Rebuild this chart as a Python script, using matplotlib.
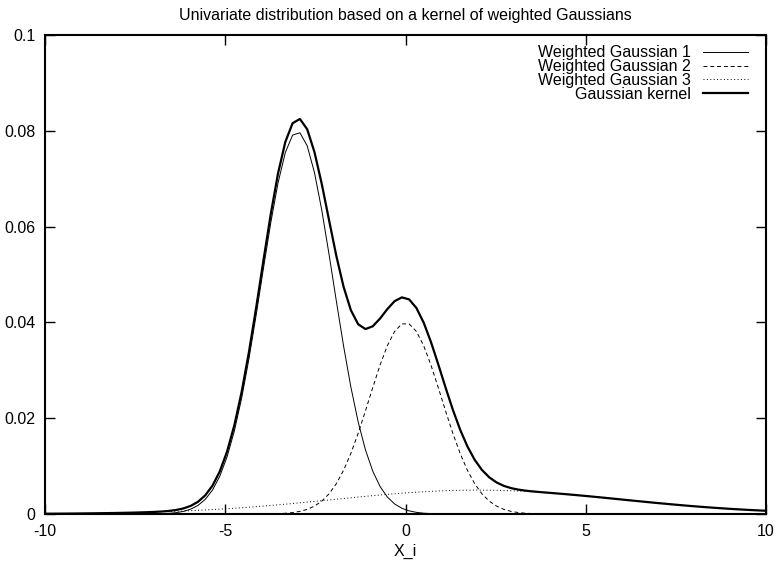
import numpy as np
import matplotlib
matplotlib.use("Agg")
import matplotlib.pyplot as plt
from matplotlib.ticker import FuncFormatter

plt.rcParams["font.family"] = ["Liberation Sans", "DejaVu Sans"]
plt.rcParams["axes.unicode_minus"] = False

# mixture components: weight, mean, sigma
weights = [0.2, 0.1, 0.05]
means = [-3.0, 0.0, 2.0]
sigmas = [1.0, 1.0, 4.0]
labels = ["Weighted Gaussian 1", "Weighted Gaussian 2", "Weighted Gaussian 3"]
styles = ["-", (0, (4, 3)), (0, (1, 2.5))]

x_range = (-10, 10)
n_samples = 100  # gnuplot default sampling
x_ticks = [-10, -5, 0, 5, 10]
y_ticks = [0, 0.02, 0.04, 0.06, 0.08, 0.1]

x = np.linspace(x_range[0], x_range[1], n_samples)


def gauss(x, w, m, s):
    return w * np.exp(-0.5 * ((x - m) / s) ** 2) / (s * np.sqrt(2 * np.pi))


fs = 11.5
fig = plt.figure(figsize=(7.79, 5.67), dpi=100)
ax = fig.add_axes([45 / 779, 53 / 567, 721 / 779, 479 / 567])

total = np.zeros_like(x)
for w, m, s, lab, ls in zip(weights, means, sigmas, labels, styles):
    y = gauss(x, w, m, s)
    total += y
    ax.plot(x, y, color="black", lw=0.7, linestyle=ls, label=lab)
ax.plot(x, total, color="black", lw=1.6, label="Gaussian kernel")

ax.set_xlim(*x_range)
ax.set_ylim(0, 0.1)
ax.set_xticks(x_ticks)
ax.set_yticks(y_ticks)
ax.yaxis.set_major_formatter(FuncFormatter(lambda v, p: "%g" % v))
ax.tick_params(direction="in", length=7, width=1, top=True, right=True,
               labelsize=fs, pad=7)
for sp in ax.spines.values():
    sp.set_linewidth(1.5)

ax.set_xlabel("X_i", fontsize=fs, labelpad=4)
ax.set_title("Univariate distribution based on a kernel of weighted Gaussians",
             fontsize=fs, pad=11)

leg = ax.legend(loc="upper right", bbox_to_anchor=(1, 1 + 8 / 479),
                frameon=False, markerfirst=False,
                fontsize=fs, handlelength=2.8, labelspacing=-0.08,
                borderaxespad=0.75, borderpad=0.4, handletextpad=0.75)
for t in leg.get_texts():
    t.set_ha("right")

fig.savefig("out.png", dpi=100)
